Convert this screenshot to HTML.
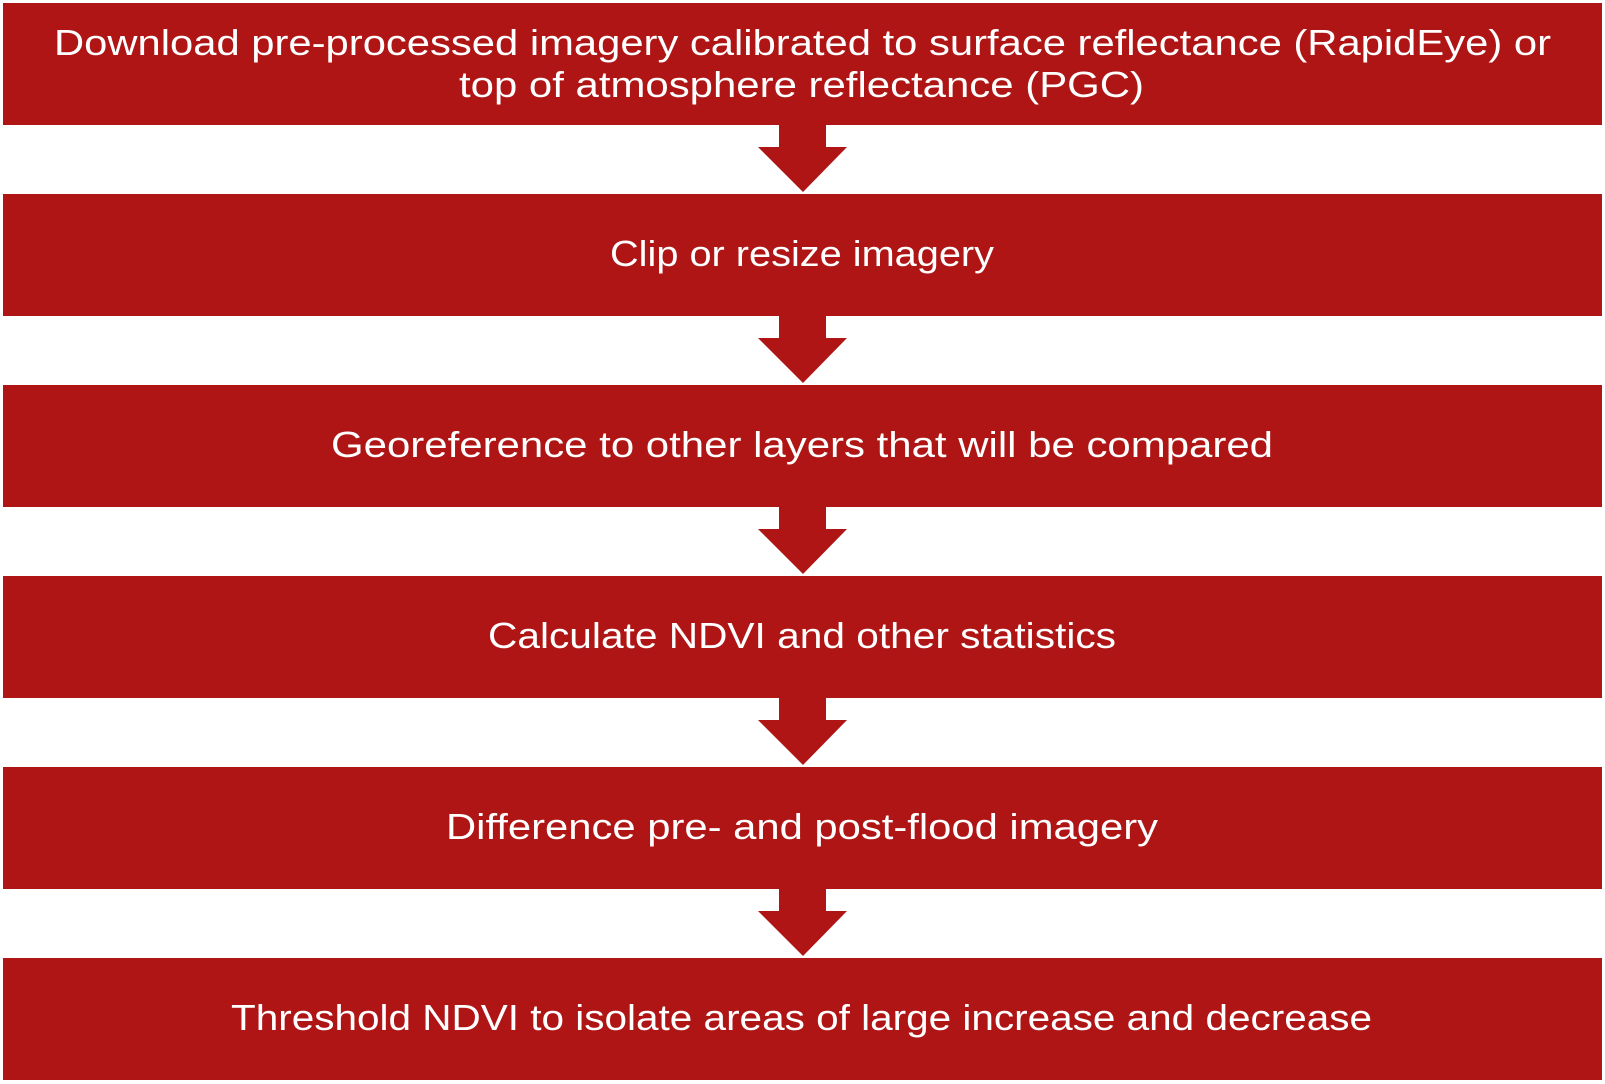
<!DOCTYPE html>
<html><head><meta charset="utf-8"><style>html,body{margin:0;padding:0;background:#fff;}svg{display:block}</style></head>
<body>
<svg width="1605" height="1084" viewBox="0 0 1605 1084" xmlns="http://www.w3.org/2000/svg">
<g fill="#AF1515">
<rect x="3" y="3" width="1599" height="122"/>
<rect x="3" y="194" width="1599" height="122"/>
<rect x="3" y="385" width="1599" height="122"/>
<rect x="3" y="576" width="1599" height="122"/>
<rect x="3" y="767" width="1599" height="122"/>
<rect x="3" y="958" width="1599" height="122"/>
<polygon points="779,125 826,125 826,147 847,147 803,192 758,147 779,147"/>
<polygon points="779,316 826,316 826,338 847,338 803,383 758,338 779,338"/>
<polygon points="779,507 826,507 826,529 847,529 803,574 758,529 779,529"/>
<polygon points="779,698 826,698 826,720 847,720 803,765 758,720 779,720"/>
<polygon points="779,889 826,889 826,911 847,911 803,956 758,911 779,911"/>
</g>
<g fill="#fff" font-family="Liberation Sans, sans-serif" font-size="36">
<text x="54" y="55" textLength="1497" lengthAdjust="spacingAndGlyphs">Download pre-processed imagery calibrated to surface reflectance (RapidEye) or</text>
<text x="459" y="97" textLength="685" lengthAdjust="spacingAndGlyphs">top of atmosphere reflectance (PGC)</text>
<text x="610" y="266" textLength="384" lengthAdjust="spacingAndGlyphs">Clip or resize imagery</text>
<text x="331" y="457" textLength="942" lengthAdjust="spacingAndGlyphs">Georeference to other layers that will be compared</text>
<text x="488" y="648" textLength="628" lengthAdjust="spacingAndGlyphs">Calculate NDVI and other statistics</text>
<text x="446" y="839" textLength="712" lengthAdjust="spacingAndGlyphs">Difference pre- and post-flood imagery</text>
<text x="231" y="1030" textLength="1141" lengthAdjust="spacingAndGlyphs">Threshold NDVI to isolate areas of large increase and decrease</text>
</g>
</svg>
</body></html>
